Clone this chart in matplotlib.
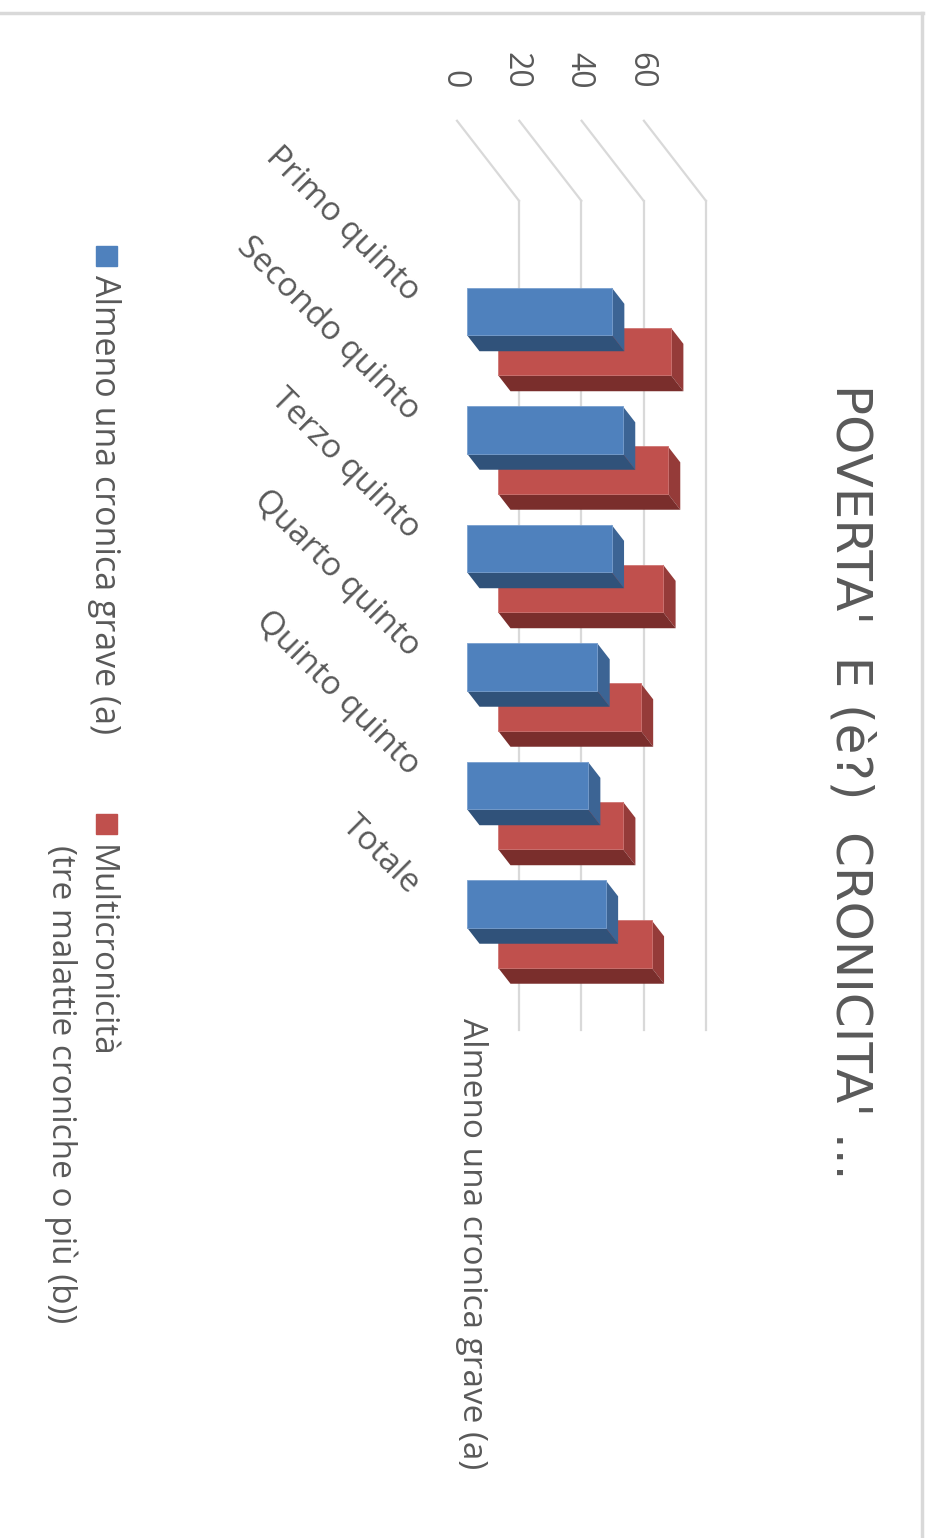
import matplotlib.pyplot as plt
from matplotlib.lines import Line2D
from matplotlib.patches import Polygon, Rectangle

# data
categories = ['Primo quinto', 'Secondo quinto', 'Terzo quinto',
              'Quarto quinto', 'Quinto quinto', 'Totale']
almeno = [46.5, 50.0, 46.4, 41.8, 38.8, 44.5]
multi = [55.5, 54.5, 53.0, 45.8, 40.1, 49.3]
series_names = ['Almeno una cronica grave (a)',
                'Multicronicità\n(tre malattie croniche o più (b))']
ticks = [0, 20, 40, 60]
title = "POVERTA'  E (è?)  CRONICITA' ..."

W, H = 929, 1538
GREY = '#595959'
FONT = ['Open Sans', 'DejaVu Sans']

fig = plt.figure(figsize=(W / 100, H / 100), dpi=100)
ax = fig.add_axes([0, 0, 1, 1])
ax.axis('off')

# oblique "3D" geometry: value runs right, categories run down
PX_V = 3.115    # px per value unit
PX_C = 118.5    # px per category
X0, Y0 = 519, 378.5
ax.set_xlim(-X0 / PX_V, (W - X0) / PX_V)
ax.set_ylim((H - Y0) / PX_C, -Y0 / PX_C)
DX, DY = 62 / PX_V, 80 / PX_C   # depth vector (front -> back)


def proj(v, z, c):
    return v + (z - 1) * DX, c + (z - 1) * DY


# walls / gridlines
c_lo, c_hi = -1.5, 5.5
for t in ticks:
    x1, y1 = proj(t, 1, c_lo)
    x2, y2 = proj(t, 1, c_hi)
    ax.plot([x1, x2], [y1, y2], color='#d9d9d9', lw=1.6, zorder=1)
    x0, y0 = proj(t, 0, c_lo)
    ax.plot([x0, x1], [y0, y1], color='#d9d9d9', lw=1.6, zorder=1)
    ax.annotate(str(t), (x0, y0), xytext=(-3, 32), textcoords='offset pixels',
                rotation=-90, ha='center', va='bottom', fontsize=23,
                color=GREY, family=FONT)

# bars: red row behind, blue row in front
half = 0.2
rows = [
    (multi, 0.661, 0.863, ('#c0504d', '#953b39', '#7a2e2c', '#cf7674'), 2),
    (almeno, 0.161, 0.363, ('#4f81bd', '#3c6494', '#30527a', '#7aa0cf'), 5),
]
for vals, z0, z1, (c_front, c_end, c_bottom, c_edge), zo in rows:
    for i, v in enumerate(vals):
        end = [proj(v, z0, i - half), proj(v, z1, i - half),
               proj(v, z1, i + half), proj(v, z0, i + half)]
        bottom = [proj(0, z0, i + half), proj(v, z0, i + half),
                  proj(v, z1, i + half), proj(0, z1, i + half)]
        ax.add_patch(Polygon(end, closed=True, color=c_end, lw=0, zorder=zo))
        ax.add_patch(Polygon(bottom, closed=True, color=c_bottom, lw=0, zorder=zo))
    pos = [i + (z0 - 1) * DY for i in range(len(vals))]
    ax.barh(pos, vals, left=(z0 - 1) * DX, height=2 * half,
            color=c_front, edgecolor=c_edge, lw=0.6, zorder=zo + 1)

# category labels
for i, name in enumerate(categories):
    x, y = proj(0, 0, i)
    ax.annotate(name, (x, y), xytext=(-42, 2), textcoords='offset pixels',
                rotation=-45, rotation_mode='anchor', ha='right', va='center',
                fontsize=24, color=GREY, family=FONT)

# depth (series) axis label
fig.text(471 / W, 1 - 1018 / H, series_names[0], rotation=-90, ha='center',
         va='top', fontsize=24, color=GREY, family=FONT)

# title
fig.text(850 / W, 1 - 782 / H, title, rotation=-90, ha='center', va='center',
         fontsize=36, color=GREY, family=['Liberation Sans Narrow', 'DejaVu Sans'])

# legend (rotated)
fig.patches.append(Rectangle((96 / W, 1 - 266 / H), 21 / W, 20 / H,
                             transform=fig.transFigure, color='#4f81bd'))
fig.text(104 / W, 1 - 275 / H, series_names[0], rotation=-90, ha='center',
         va='top', fontsize=24.5, color=GREY, family=FONT)
fig.patches.append(Rectangle((96 / W, 1 - 834 / H), 21 / W, 20 / H,
                             transform=fig.transFigure, color='#c0504d'))
fig.text(80 / W, 1 - 845 / H, series_names[1], rotation=-90, ha='center',
         va='top', multialignment='left', linespacing=1.25, fontsize=24,
         color=GREY, family=FONT)

# frame of the screenshot
fig.lines.append(Line2D([0, 923 / W], [1 - 13 / H, 1 - 13 / H],
                        transform=fig.transFigure, color='#d9d9d9', lw=2.5))
fig.lines.append(Line2D([922 / W, 922 / W], [0, 1 - 13 / H],
                        transform=fig.transFigure, color='#d9d9d9', lw=2.5))

fig.savefig('out.png', dpi=100)
